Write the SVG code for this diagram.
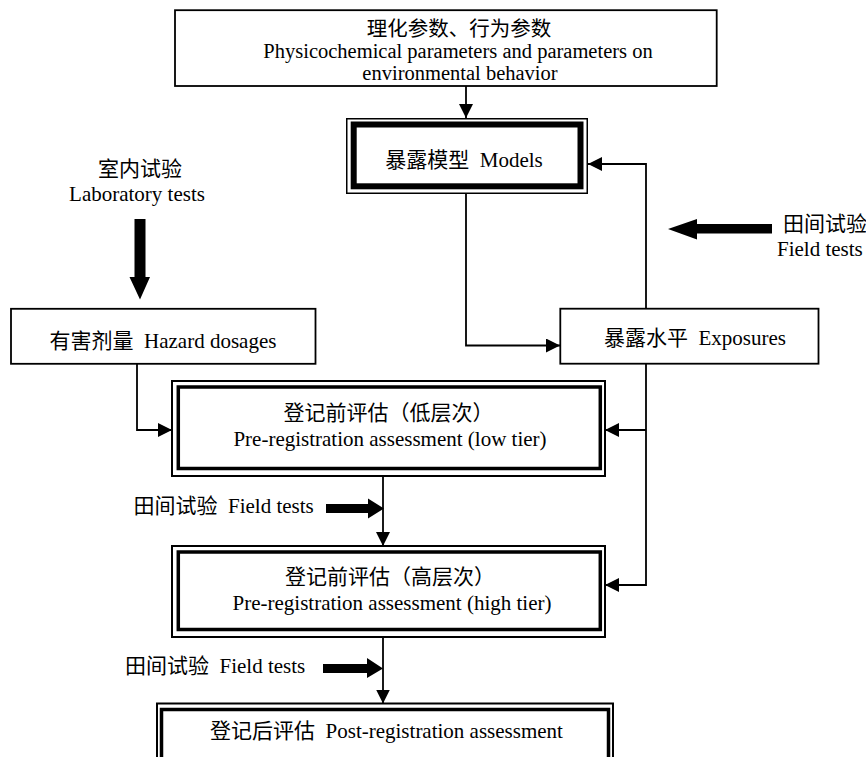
<svg xmlns="http://www.w3.org/2000/svg" width="866" height="757" viewBox="0 0 866 757" xml:space="preserve">
  <defs>
    <marker id="arr" markerUnits="userSpaceOnUse" markerWidth="14" markerHeight="14" refX="14" refY="7" orient="auto">
      <path d="M0,0 L14,7 L0,14 Z" fill="#000"/>
    </marker>
    <style>
      text { font-family: "Liberation Serif", "Noto Sans CJK SC", serif; font-size: 21px; fill: #000; white-space: pre; }
      .c { text-anchor: middle; }
      .t { font-size: 20.5px; }
      .box { fill: #fff; stroke: #000; stroke-width: 1.8; }
      .outer { fill: #fff; stroke: #000; stroke-width: 2; }
      .inner { fill: none; stroke: #000; stroke-width: 3.5; }
      .conn { fill: none; stroke: #000; stroke-width: 1.8; }
      .fat { fill: #000; stroke: none; }
    </style>
  </defs>
  <rect width="866" height="757" fill="#fff"/>

  <g id="connectors">
    <path class="conn" d="M466,86 L466,118" marker-end="url(#arr)"/>
    <path class="conn" d="M466,194 L466,345.5 L560,345.5" marker-end="url(#arr)"/>
    <path class="conn" d="M646,308 L646,164 L588,164" marker-end="url(#arr)"/>
    <path class="conn" d="M646,364 L646,585 L605,585" marker-end="url(#arr)"/>
    <path class="conn" d="M646,430 L605,430" marker-end="url(#arr)"/>
    <path class="conn" d="M137,364 L137,430 L172,430" marker-end="url(#arr)"/>
    <path class="conn" d="M383,476 L383,546" marker-end="url(#arr)"/>
    <path class="conn" d="M383,637 L383,703.5" marker-end="url(#arr)"/>
    <polygon class="fat" points="134.5,219 145.5,219 145.5,277 150,277 140,299.5 129.5,277 134.5,277"/>
    <polygon class="fat" points="772,224 697,224 697,219 668,229 697,239.5 697,233.5 772,233.5"/>
    <polygon class="fat" points="326,504 368,504 368,498.5 384,508.5 368,518.5 368,513 326,513"/>
    <polygon class="fat" points="323,664 367,664 367,658 383,668.5 367,678 367,673 323,673"/>
  </g>

  <g id="top-params">
    <rect class="box" x="175" y="10.2" width="541.7" height="75.8"/>
    <text class="c t" x="459" y="36">理化参数、行为参数</text>
    <text class="c t" x="458" y="58">Physicochemical parameters and parameters on</text>
    <text class="c t" x="460" y="79.5">environmental behavior</text>
  </g>

  <g id="models">
    <rect fill="#fff" stroke="#000" stroke-width="1.5" x="346.75" y="118.75" width="240.5" height="74.5"/>
    <rect fill="none" stroke="#000" stroke-width="6" x="353.7" y="124.5" width="226.8" height="61.8"/>
    <text class="c" x="464" y="167">暴露模型  Models</text>
  </g>

  <g id="lab-tests">
    <text class="c" x="140" y="176">室内试验</text>
    <text class="c" x="137" y="201">Laboratory tests</text>
  </g>

  <g id="field-tests-right">
    <text x="783" y="231">田间试验</text>
    <text x="777" y="256">Field tests</text>
  </g>

  <g id="hazard">
    <rect class="box" x="11" y="308.8" width="304.5" height="55"/>
    <text class="c" x="163" y="348">有害剂量  Hazard dosages</text>
  </g>

  <g id="exposures">
    <rect class="box" x="560.3" y="308.7" width="258.2" height="55"/>
    <text class="c" x="695" y="345">暴露水平  Exposures</text>
  </g>

  <g id="low-tier">
    <rect class="outer" x="172" y="381" width="433" height="95"/>
    <rect class="inner" x="178.3" y="387" width="422" height="81.5"/>
    <text class="c" x="388.5" y="420">登记前评估（低层次）</text>
    <text class="c" x="390" y="446">Pre-registration assessment (low tier)</text>
  </g>

  <g id="field-tests-1">
    <text x="133.5" y="513">田间试验  Field tests</text>
  </g>

  <g id="high-tier">
    <rect class="outer" x="172" y="546" width="433" height="91"/>
    <rect class="inner" x="178.3" y="552" width="422" height="77.5"/>
    <text class="c" x="390" y="584">登记前评估（高层次）</text>
    <text class="c" x="392" y="610">Pre-registration assessment (high tier)</text>
  </g>

  <g id="field-tests-2">
    <text x="125" y="673">田间试验  Field tests</text>
  </g>

  <g id="post-reg">
    <rect class="outer" x="157" y="703.5" width="456" height="70"/>
    <rect class="inner" x="161.5" y="709.5" width="447" height="60"/>
    <text class="c" x="386.5" y="738">登记后评估  Post-registration assessment</text>
  </g>
</svg>
